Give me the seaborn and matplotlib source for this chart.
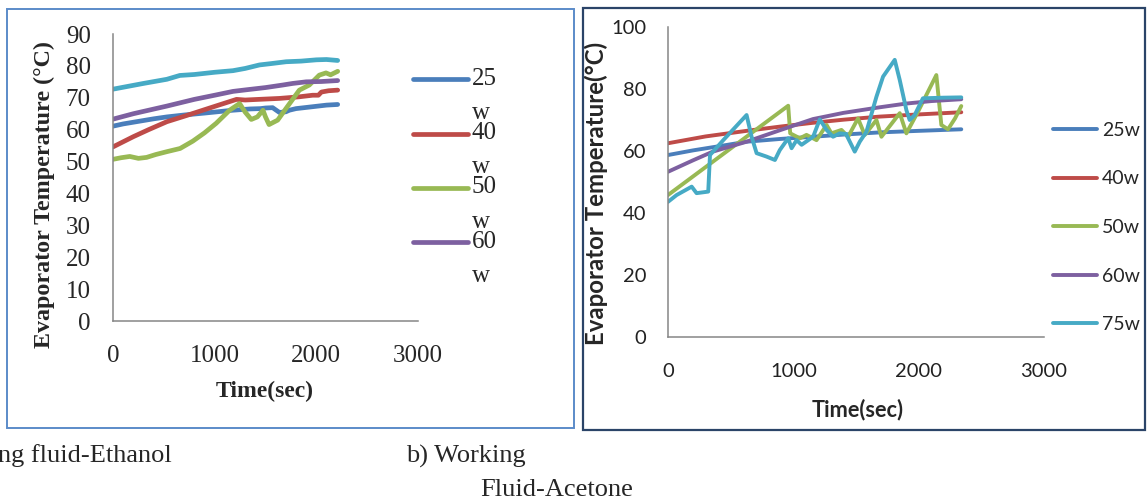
import numpy as np
import pandas as pd
import matplotlib
matplotlib.use("Agg")
import matplotlib.pyplot as plt
import seaborn as sns
from matplotlib.lines import Line2D
from matplotlib.legend_handler import HandlerLine2D
from matplotlib.patches import Rectangle
from matplotlib.font_manager import FontProperties

# ---------------- data: ethanol (left panel) ----------------
eth_25_t = [0, 100, 250, 400, 530, 700, 900, 1180, 1350, 1450, 1500, 1570, 1637, 1700, 1735, 1800, 1964, 2100, 2210]
eth_25_T = [61.1, 61.8, 62.6, 63.4, 64.0, 64.6, 65.2, 66.1, 66.5, 66.6, 66.8, 66.9, 65.4, 65.6, 66.1, 66.6, 67.2, 67.7, 67.9]
eth_40_t = [0, 100, 200, 350, 530, 700, 855, 1000, 1215, 1300, 1500, 1637, 1830, 1964, 2020, 2050, 2120, 2210]
eth_40_T = [54.6, 56.2, 57.8, 60.0, 62.5, 64.2, 65.8, 67.3, 69.5, 69.3, 69.6, 69.8, 70.3, 70.8, 70.8, 71.8, 72.2, 72.4]
eth_50_t = [0, 80, 165, 250, 330, 420, 530, 660, 785, 900, 1015, 1147, 1245, 1300, 1360, 1420, 1475, 1500, 1535, 1620, 1703, 1833, 1931, 2029, 2095, 2140, 2210]
eth_50_T = [50.7, 51.2, 51.6, 51.0, 51.3, 52.2, 53.1, 54.1, 56.4, 59.0, 62.0, 66.1, 68.2, 65.5, 63.2, 64.0, 66.1, 64.0, 61.6, 63.0, 66.7, 72.4, 74.0, 77.1, 77.8, 77.2, 78.3]
eth_60_t = [0, 200, 530, 800, 1000, 1180, 1310, 1500, 1670, 1768, 1900, 2050, 2210]
eth_60_T = [63.3, 65.0, 67.4, 69.5, 70.8, 72.0, 72.5, 73.2, 74.0, 74.5, 75.0, 75.1, 75.4]
eth_75_t = [0, 150, 300, 530, 657, 800, 1000, 1180, 1300, 1441, 1550, 1703, 1850, 2000, 2100, 2210]
eth_75_T = [72.7, 73.6, 74.5, 75.8, 77.0, 77.3, 78.0, 78.5, 79.2, 80.3, 80.7, 81.3, 81.5, 81.9, 82.0, 81.7]

# ---------------- data: acetone (right panel) ----------------
ace_25_t = [0, 200, 400, 627, 900, 1157, 1400, 1689, 2000, 2340]
ace_25_T = [58.7, 60.2, 61.5, 63.0, 63.9, 64.6, 65.3, 66.0, 66.5, 67.0]
ace_40_t = [0, 300, 627, 900, 1157, 1400, 1689, 2000, 2340]
ace_40_T = [62.5, 64.7, 66.5, 67.9, 69.1, 70.1, 71.1, 71.8, 72.5]
ace_50_t = [0, 959, 975, 1052, 1105, 1185, 1265, 1304, 1384, 1437, 1516, 1570, 1663, 1703, 1849, 1902, 1995, 2141, 2181, 2234, 2290, 2340]
ace_50_T = [45.8, 74.6, 65.7, 64.1, 65.2, 63.5, 68.4, 65.7, 66.8, 64.6, 70.5, 65.2, 70.0, 64.6, 72.2, 65.7, 72.7, 84.5, 68.4, 67.0, 70.5, 74.5]
ace_60_t = [0, 200, 358, 627, 900, 1157, 1400, 1689, 1900, 2100, 2340]
ace_60_T = [53.3, 57.0, 59.8, 63.0, 66.8, 70.3, 72.3, 74.1, 75.3, 76.1, 76.7]
ace_75_t = [0, 69, 189, 228, 321, 335, 441, 627, 667, 707, 786, 853, 892, 959, 986, 1026, 1066, 1158, 1211, 1265, 1317, 1370, 1420, 1490, 1530, 1583, 1663, 1716, 1809, 1849, 1902, 1928, 1968, 2034, 2200, 2340]
ace_75_T = [43.6, 45.8, 48.5, 46.4, 46.9, 58.7, 63.5, 71.6, 64.6, 59.3, 58.2, 57.1, 60.3, 64.1, 60.9, 63.5, 62.0, 64.6, 70.2, 66.8, 64.6, 65.7, 65.5, 59.8, 63.0, 66.2, 77.5, 84.0, 89.4, 82.9, 73.2, 70.0, 71.6, 77.0, 77.2, 77.3]

series_names = ["25w", "40w", "50w", "60w", "75w"]
eth_left_labels = ["25\nw", "40\nw", "50\nw", "60\nw"]
x_ticks = [0, 1000, 2000, 3000]
eth_y_ticks = list(range(0, 91, 10))
ace_y_ticks = list(range(0, 101, 20))
colors = ["#4A7EBB", "#BE4B48", "#98B954", "#7D60A0", "#46AAC5"]


def long_form(ts, Ts):
    frames = []
    for name, t, T in zip(series_names, ts, Ts):
        frames.append(pd.DataFrame({"t": t, "T": T, "series": name}))
    return pd.concat(frames, ignore_index=True)


eth_df = long_form([eth_25_t, eth_40_t, eth_50_t, eth_60_t, eth_75_t],
                   [eth_25_T, eth_40_T, eth_50_T, eth_60_T, eth_75_T])
ace_df = long_form([ace_25_t, ace_40_t, ace_50_t, ace_60_t, ace_75_t],
                   [ace_25_T, ace_40_T, ace_50_T, ace_60_T, ace_75_T])

sns.set_style("white")
plt.rcParams["font.family"] = ["Liberation Serif", "DejaVu Sans"]

W, H = 1147, 500
fig = plt.figure(figsize=(W / 100, H / 100), dpi=100)
ax1 = fig.add_axes([113 / W, (H - 321) / H, 305 / W, 287 / H])
ax2 = fig.add_axes([668 / W, (H - 337) / H, 376 / W, 310 / H])

palette = dict(zip(series_names, colors))
sns.lineplot(data=eth_df, x="t", y="T", hue="series", palette=palette, estimator=None,
             sort=False, legend=False, ax=ax1, linewidth=3.4, solid_capstyle="round")
sns.lineplot(data=ace_df, x="t", y="T", hue="series", palette=palette, estimator=None,
             sort=False, legend=False, ax=ax2, linewidth=2.8, solid_capstyle="round")

axis_grey = "#868686"
for ax in (ax1, ax2):
    for s in ("top", "right"):
        ax.spines[s].set_visible(False)
    for s in ("left", "bottom"):
        ax.spines[s].set_color(axis_grey)
        ax.spines[s].set_linewidth(1.1)
    ax.set_xlim(0, 3000)
    ax.set_xticks(x_ticks)

ax1.set_ylim(0, 90)
ax1.set_yticks(eth_y_ticks)
ax1.tick_params(axis="both", direction="out", length=6, width=1, color=axis_grey, labelsize=18)
ax1.tick_params(axis="x", pad=11)
ax1.tick_params(axis="y", pad=10)
ax1.set_xlabel("Time(sec)", fontsize=17, fontweight="bold", va="center")
ax1.set_ylabel("Evaporator Temperature (°C)", fontsize=17.3, fontweight="bold", va="center")
ax1.xaxis.set_label_coords(0.498, -0.247)
ax1.yaxis.set_label_coords(-0.2265, 0.442)

ax2.set_ylim(0, 100)
ax2.set_yticks(ace_y_ticks)
ax2.tick_params(axis="both", direction="out", length=5.5, width=1, color=axis_grey, labelsize=14.5)
ax2.tick_params(axis="x", pad=13.5)
ax2.tick_params(axis="y", pad=10)
for lbl in ax2.get_xticklabels() + ax2.get_yticklabels():
    lbl.set_fontfamily("Lato")
    lbl.set_color("#222222")
ax2.set_xlabel("Time(sec)", fontsize=15.7, fontweight="bold", family="Lato", va="center")
ax2.set_ylabel("Evaporator Temperature(°C)", fontsize=17.3, fontweight="bold", family="Lato", va="center")
ax2.xaxis.set_label_coords(0.503, -0.2355)
ax2.yaxis.set_label_coords(-0.192, 0.463)


class TopLine(HandlerLine2D):
    def create_artists(self, legend, orig_handle, xdescent, ydescent, width, height, fontsize, trans):
        arts = super().create_artists(legend, orig_handle, xdescent, ydescent, width, height, fontsize, trans)
        for a in arts:
            a.set_ydata(np.asarray(a.get_ydata(), dtype=float) + 0.66 * fontsize)
        return arts


h1 = ax1.get_lines()[:4]
leg1 = ax1.legend(h1, eth_left_labels, loc="upper left",
                  bbox_to_anchor=(413 / W, 1 - 68 / H), bbox_transform=fig.transFigure,
                  frameon=False, prop=FontProperties(family="Liberation Serif", size=18),
                  handlelength=2.2, handletextpad=0.15, labelspacing=-0.08,
                  borderpad=0, borderaxespad=0, handler_map={Line2D: TopLine()})
for t in leg1.get_texts():
    t.set_linespacing(1.72)

h2 = ax2.get_lines()[:5]
ax2.legend(h2, series_names, loc="upper left",
           bbox_to_anchor=(1053 / W, 1 - 122 / H), bbox_transform=fig.transFigure,
           frameon=False, prop=FontProperties(family="Lato", size=14),
           handlelength=2.27, handletextpad=0.25, labelspacing=1.62,
           borderpad=0, borderaxespad=0)

# panel frames
fig.add_artist(Rectangle((7 / W, (H - 428) / H), 567 / W, 419 / H, transform=fig.transFigure,
                         fill=False, edgecolor="#5B8BC9", linewidth=1.4))
fig.add_artist(Rectangle((583 / W, (H - 430) / H), 562 / W, 422 / H, transform=fig.transFigure,
                         fill=False, edgecolor="#2B4468", linewidth=1.6))

# captions
fig.text(-2 / W, 1 - 456 / H, "ng fluid-Ethanol", fontsize=19, va="center", ha="left")
fig.text(406 / W, 1 - 456 / H, "b) Working", fontsize=19, va="center", ha="left")
fig.text(480 / W, 1 - 490 / H, "Fluid-Acetone", fontsize=19, va="center", ha="left")

fig.savefig("out.png", dpi=100)
